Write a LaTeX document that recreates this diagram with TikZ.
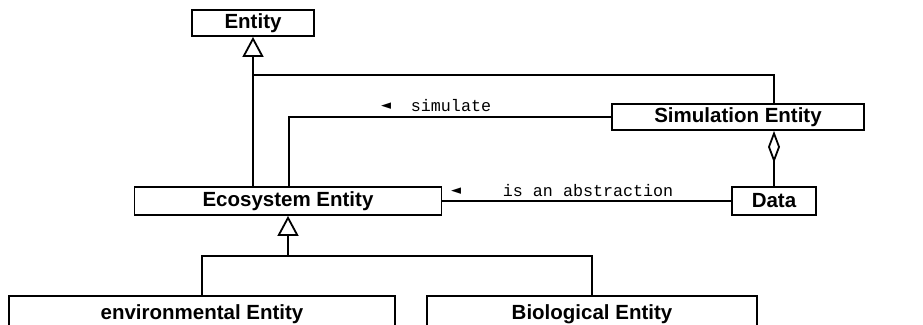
\documentclass[tikz,border=0pt]{standalone}
\usepackage{fontspec}
\setmainfont{Liberation Sans}
\newfontfamily\monof{Liberation Mono}
\newfontfamily\symf{DejaVu Sans}
\usetikzlibrary{arrows.meta}
\begin{document}
\begin{tikzpicture}[x=1pt,y=-1pt,line width=1.8pt,
  umlbox/.style={draw,fill=white,inner sep=0pt,font=\fontsize{20.5}{24}\selectfont\bfseries},
  inh/.style={-{Triangle[open,length=20pt,width=21pt,line width=1.8pt]}},
  agg/.style={-{Diamond[open,length=32pt,width=12pt,line width=1.8pt]}},
  lbl/.style={inner sep=0pt,anchor=west,font=\monof\fontsize{16.7}{18}\selectfont},
  tri/.style={inner sep=0pt,font=\symf\fontsize{13}{14}\selectfont}]
\useasboundingbox (0,0) rectangle (923,324);
\node[umlbox,minimum width=122pt,minimum height=26pt] (ent) at (253,23) {Entity};
\node[umlbox,minimum width=252pt,minimum height=26pt] (sim) at (738,117) {Simulation Entity};
\node[umlbox,minimum width=307pt,minimum height=28pt] (eco) at (288,201) {Ecosystem Entity};
\node[umlbox,minimum width=84pt,minimum height=28pt] (data) at (774,201) {Data};
\node[umlbox,minimum width=386pt,minimum height=36pt] (env) at (202,314) {environmental Entity};
\node[umlbox,minimum width=330pt,minimum height=36pt] (bio) at (592,314) {Biological Entity};
\coordinate (j1) at (774,75);
\coordinate (s1) at (289,117);
\coordinate (h) at (288,256);
\coordinate (hl) at (202,256);
\coordinate (hr) at (592,256);
\draw[inh] (eco.north -| ent.south) -- (ent.south);
\draw (sim.north -| j1) -- (j1) -- (j1 -| ent.south);
\draw (sim.west) -- (sim.west -| s1) -- (s1 |- eco.north);
\draw[agg] (data.north) -- (data.north |- sim.south);
\draw (data.west) -- (eco.east);
\draw[inh] (h) -- (eco.south -| h);
\draw (env.north -| hl) -- (hl) -- (hr) -- (bio.north -| hr);
\node[tri] (t1) at (386,106) {◄};
\node[lbl] (l1) at (410,106) {simulate};
\node[tri] (t2) at (456,191) {◄};
\node[lbl] (l2) at (502,191) {is an abstraction};
\end{tikzpicture}
\end{document}
